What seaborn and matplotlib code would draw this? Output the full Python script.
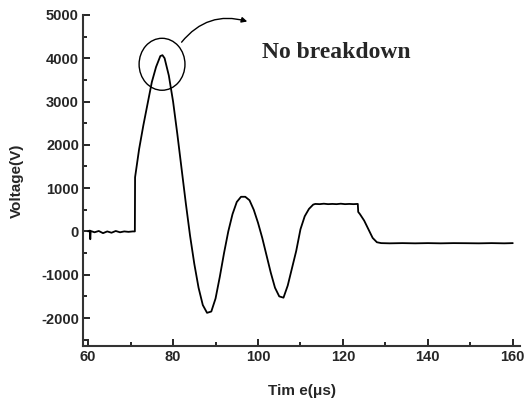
import numpy as np
import pandas as pd
import matplotlib
matplotlib.use("Agg")
import matplotlib.pyplot as plt
import seaborn as sns
from matplotlib.patches import Ellipse
from matplotlib.ticker import MultipleLocator

## data
time_us = [60.0, 60.4, 60.5, 60.6, 61.5, 62.5, 63.5, 64.5, 65.5, 66.5, 67.5, 68.5, 69.5, 70.5, 71.0,
           71.05, 72.0, 73.0, 74.0, 75.0, 76.0, 77.0, 77.5, 78.0, 79.0, 80.0, 81.0, 82.0, 83.0,
           84.0, 85.0, 86.0, 87.0, 88.0, 89.0, 90.0, 91.0, 92.0, 93.0, 94.0, 95.0, 96.0, 97.0,
           98.0, 99.0, 100.0, 101.0, 102.0, 103.0, 104.0, 105.0, 106.0, 107.0, 108.0, 109.0,
           110.0, 111.0, 112.0, 113.0, 113.5, 114.5, 115.5, 116.5, 117.5, 118.5, 119.5, 120.5,
           121.5, 122.5, 123.5, 123.6, 124.0, 125.0, 126.0, 127.0, 128.0, 129.0, 131.0, 134.0,
           137.0, 140.0, 143.0, 146.0, 149.0, 152.0, 155.0, 158.0, 160.0]
voltage_v = [0, 20, -180, 10, -20, 10, -40, 0, -30, 10, -20, 0, -10, 0, 0,
             1250, 1900, 2450, 2950, 3450, 3800, 4050, 4070, 4000, 3600, 3000, 2250, 1450, 650,
             -100, -750, -1300, -1700, -1880, -1850, -1550, -1050, -500, 0, 400, 680, 800, 800,
             720, 500, 200, -150, -550, -950, -1300, -1500, -1530, -1250, -850, -450,
             50, 350, 520, 620, 635, 630, 640, 630, 635, 630, 640, 630, 635, 630, 635, 450,
             400, 250, 50, -150, -250, -270, -275, -270, -275, -270, -275, -270, -272, -275,
             -270, -275, -270]

df = pd.DataFrame({"t": time_us, "v": voltage_v})

sns.set_style("ticks")
plt.rcParams["font.family"] = ["Liberation Sans", "DejaVu Sans"]
plt.rcParams["axes.unicode_minus"] = False

fig = plt.figure(figsize=(5.29, 4.03), dpi=100)
ax = fig.add_axes([0.157, 0.141, 0.826, 0.822])

sns.lineplot(data=df, x="t", y="v", ax=ax, color="black", lw=1.3, sort=False)

ax.set_xlim(58.8, 161.7)
ax.set_ylim(-2650, 5000)
ax.xaxis.set_major_locator(MultipleLocator(20))
ax.xaxis.set_minor_locator(MultipleLocator(10))
ax.yaxis.set_major_locator(MultipleLocator(1000))
ax.yaxis.set_minor_locator(MultipleLocator(500))
ax.tick_params(which="both", direction="in", width=1.2, color="black")
ax.tick_params(which="major", length=5, labelsize=10.5, pad=3)
ax.tick_params(which="minor", length=3)
for lab in ax.get_xticklabels() + ax.get_yticklabels():
    lab.set_fontweight("bold")
sns.despine(ax=ax)
for s in ["left", "bottom"]:
    ax.spines[s].set_linewidth(1.5)
    ax.spines[s].set_color("#333333")

ax.set_xlabel("Tim e(\u03bcs)", fontsize=11, fontweight="bold", labelpad=14)
ax.set_ylabel("Voltage(V)", fontsize=11, fontweight="bold", labelpad=12)

## annotation
ax.add_patch(Ellipse((77.4, 3860), 10.8, 1200, fill=False, ec="black", lw=1.0))
ax.annotate("", xy=(98.1, 4830), xytext=(81.6, 4320),
            arrowprops=dict(arrowstyle="-|>", color="black", lw=1.0,
                            mutation_scale=8, connectionstyle="arc3,rad=-0.35"))
ax.text(101.0, 4140, "No breakdown", family="Liberation Serif", fontweight="bold",
        fontsize=17, va="center", ha="left")

plt.savefig("out.png", dpi=100)
